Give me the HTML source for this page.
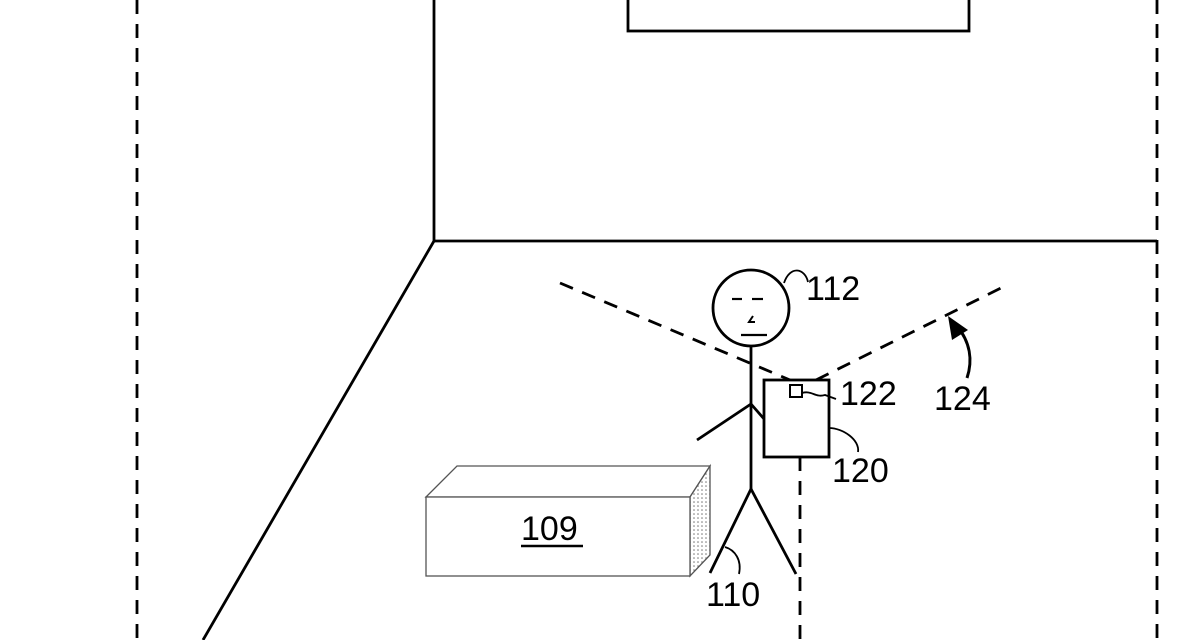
<!DOCTYPE html>
<html><head><style>body{margin:0;background:#fff}svg{display:block}text{font-family:"Liberation Sans",sans-serif;font-size:34px;fill:#000}</style></head><body>
<svg width="1200" height="640" viewBox="0 0 1200 640" xmlns="http://www.w3.org/2000/svg">
<defs><pattern id="dots" width="4" height="4" patternUnits="userSpaceOnUse"><rect width="4" height="4" fill="#fff"/><circle cx="2" cy="2" r="0.8" fill="#777"/></pattern></defs>
<g fill="none" stroke="#000" stroke-width="2.8">
<line x1="137" y1="0" x2="137" y2="640" stroke-dasharray="14 10"/>
<line x1="1157" y1="0" x2="1157" y2="640" stroke-dasharray="14 10"/>
<line x1="434" y1="0" x2="434" y2="241"/>
<line x1="434" y1="241" x2="1157" y2="241"/>
<line x1="434" y1="241" x2="203" y2="640"/>
<rect x="628" y="-5" width="341" height="36"/>
<line x1="560" y1="283" x2="790" y2="380" stroke-dasharray="14 10"/>
<line x1="816" y1="380" x2="1005" y2="286" stroke-dasharray="14 10"/>
<line x1="800" y1="457" x2="800" y2="640" stroke-dasharray="14 10"/>
<circle cx="751" cy="308" r="38" fill="#fff"/>
<line x1="732" y1="299" x2="742" y2="299" stroke-width="2.2"/>
<line x1="752" y1="299" x2="763" y2="299" stroke-width="2.2"/>
<path d="M753 316 L749 322 L755 322" stroke-width="2"/>
<line x1="741" y1="335" x2="767" y2="335" stroke-width="2.2"/>
<line x1="751" y1="346" x2="751" y2="489"/>
<line x1="751" y1="404" x2="697" y2="440"/>
<line x1="751" y1="404" x2="765" y2="420"/>
<path d="M710 573 L751 489 L796 574"/>
<rect x="764" y="380" width="65" height="77" fill="#fff"/>
<rect x="790" y="385" width="12" height="12" stroke-width="2"/>
<path d="M802 393 C812 390,815 398,825 395 L836 399" stroke-width="1.8"/>
<path d="M784 283 C790 265,805 268,808 282" stroke-width="1.8"/>
<path d="M829 428 C843 428,860 440,858 452" stroke-width="1.8"/>
<path d="M725 547 C735 550,742 560,739 574" stroke-width="1.8"/>
<path d="M967 378 C973 360,970 342,957 326" stroke-width="3"/>
</g>
<polygon points="948,316 968,330 952,340" fill="#000"/>
<g stroke="#555" stroke-width="1.3">
<polygon points="426,497 457,466 710,466 690,497" fill="#fff"/>
<polygon points="690,497 710,466 710,555 690,576" fill="url(#dots)"/>
<rect x="426" y="497" width="264" height="79" fill="#fff"/>
</g>
<text x="806" y="300">112</text>
<text x="840" y="405">122</text>
<text x="934" y="410">124</text>
<text x="832" y="482">120</text>
<text x="706" y="606">110</text>
<text x="521" y="540">109</text>
<line x1="521" y1="546" x2="583" y2="546" stroke="#000" stroke-width="2.5"/>
<text x="834" y="664">106</text>
</svg>
</body></html>
